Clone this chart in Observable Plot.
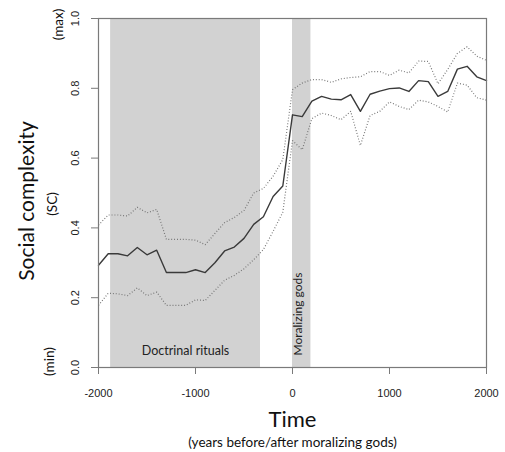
<!DOCTYPE html>
<html>
<head>
<meta charset="utf-8">
<script src="https://cdn.jsdelivr.net/npm/d3@7"></script>
<script src="https://cdn.jsdelivr.net/npm/@observablehq/plot@0.6"></script>
<style>
  html, body { margin: 0; padding: 0; background: #fff; }
  #chart svg { display: block; }
</style>
</head>
<body>
<div id="chart"></div>
<script>
const years = [-2000,-1900,-1800,-1700,-1600,-1500,-1400,-1300,-1200,-1100,-1000,-900,-800,-700,-600,-500,-400,-300,-200,-100,
  0,100,200,300,400,500,600,700,800,900,1000,1100,1200,1300,1400,1500,1600,1700,1800,1900,2000];
const meanSC = [0.293,0.326,0.326,0.320,0.344,0.323,0.336,0.272,0.272,0.272,0.280,0.272,0.300,0.334,0.345,0.370,0.410,0.432,0.490,0.520,
  0.724,0.719,0.763,0.777,0.769,0.767,0.782,0.734,0.783,0.792,0.799,0.801,0.791,0.822,0.819,0.777,0.791,0.855,0.863,0.833,0.822];
const upperSC = [0.408,0.437,0.437,0.434,0.459,0.443,0.453,0.367,0.367,0.367,0.365,0.352,0.384,0.415,0.430,0.450,0.500,0.513,0.548,0.596,
  0.796,0.815,0.825,0.825,0.817,0.827,0.831,0.833,0.848,0.848,0.837,0.852,0.844,0.878,0.877,0.813,0.854,0.900,0.919,0.892,0.880];
const lowerSC = [0.178,0.213,0.211,0.206,0.228,0.206,0.216,0.178,0.178,0.178,0.194,0.192,0.221,0.250,0.264,0.283,0.309,0.338,0.390,0.445,
  0.650,0.624,0.713,0.729,0.722,0.710,0.734,0.636,0.722,0.734,0.761,0.748,0.739,0.766,0.761,0.748,0.732,0.815,0.809,0.773,0.766];

const periods = [
  {name: "Doctrinal rituals", start: -1875, end: -330},
  {name: "Moralizing gods", start: 0, end: 190}
];
const xTicks = [-2000, -1000, 0, 1000, 2000];
const yTicks = [0, 0.2, 0.4, 0.6, 0.8, 1.0];

const rows = years.map((t, i) => ({t, mean: meanSC[i], upper: upperSC[i], lower: lowerSC[i]}));
const titleFont = "Lato, 'Open Sans', sans-serif";
const tickFont = "'Liberation Sans', Arial, sans-serif";

const plot = Plot.plot({
  width: 505,
  height: 452,
  marginLeft: 98,
  marginRight: 19,
  marginTop: 18,
  marginBottom: 85,
  style: {background: "#fff", fontFamily: tickFont},
  x: {domain: [-2000, 2000]},
  y: {domain: [0, 1]},
  marks: [
    Plot.rect(periods, {x1: "start", x2: "end", y1: 0, y2: 1, fill: "#d2d2d2"}),
    Plot.line(rows, {x: "t", y: "upper", stroke: "#707070", strokeWidth: 1.2, strokeDasharray: "0.9,2", strokeLinecap: "butt"}),
    Plot.line(rows, {x: "t", y: "lower", stroke: "#707070", strokeWidth: 1.2, strokeDasharray: "0.9,2", strokeLinecap: "butt"}),
    Plot.line(rows, {x: "t", y: "mean", stroke: "#3a3a3a", strokeWidth: 1.4}),
    Plot.frame({stroke: "#7a7a7a", strokeWidth: 1.2}),
    Plot.axisX({ticks: xTicks, tickFormat: d => String(d), tickSize: 7, tickPadding: 15, fontSize: 11, color: "#222", stroke: "#7a7a7a", label: null}),
    Plot.axisY({ticks: yTicks, tickSize: 7, stroke: "#7a7a7a", fill: "none", label: null}),
    Plot.text(yTicks, {y: d => d, frameAnchor: "left", dx: -23, rotate: -90, textAnchor: "middle", lineAnchor: "middle", text: d => d.toFixed(1), fontFamily: tickFont, fontSize: 11, fill: "#222"}),
    // period labels
    Plot.text([periods[0]], {x: d => (d.start + d.end) / 2, frameAnchor: "bottom", dy: -13, text: "name", fontFamily: titleFont, fontSize: 12.5, fill: "#222"}),
    Plot.text([periods[1]], {x: d => (d.start + d.end) / 2, frameAnchor: "bottom", dy: -12, text: "name", rotate: -90, textAnchor: "start", fontFamily: titleFont, fontSize: 12, fill: "#222"}),
    // axis titles
    Plot.text(["Social complexity"], {frameAnchor: "left", dx: -71, dy: 8, rotate: -90, textAnchor: "middle", fontFamily: titleFont, fontSize: 21, fill: "#111"}),
    Plot.text(["(SC)"], {frameAnchor: "left", dx: -46, dy: 11, rotate: -90, textAnchor: "middle", fontFamily: titleFont, fontSize: 13.5, fill: "#111"}),
    Plot.text(["(max)"], {frameAnchor: "top-left", dx: -45, dy: 6, rotate: -90, textAnchor: "middle", fontFamily: titleFont, fontSize: 13.5, fill: "#111"}),
    Plot.text(["(min)"], {frameAnchor: "bottom-left", dx: -45, dy: -6, rotate: -90, textAnchor: "middle", fontFamily: titleFont, fontSize: 13.5, fill: "#111"}),
    Plot.text(["Time"], {frameAnchor: "bottom", dy: 59, fontFamily: titleFont, fontSize: 22, fill: "#111"}),
    Plot.text(["(years before/after moralizing gods)"], {frameAnchor: "bottom", dy: 79, fontFamily: titleFont, fontSize: 13.5, fill: "#111"})
  ]
});
document.getElementById("chart").appendChild(plot);
</script>
</body>
</html>
